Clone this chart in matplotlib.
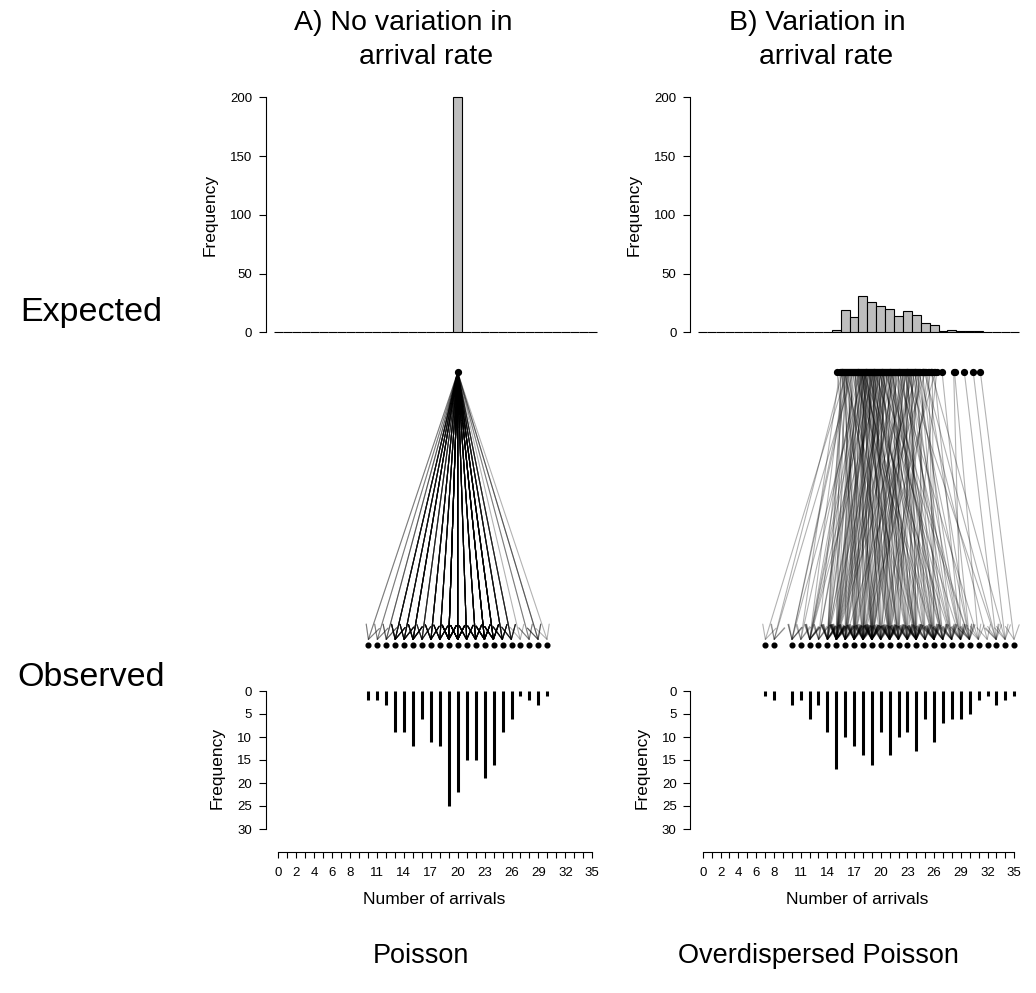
import numpy as np
import matplotlib
matplotlib.use("Agg")
import matplotlib.pyplot as plt

plt.rcParams['font.family'] = ['Liberation Sans', 'DejaVu Sans']

# --- data ---
# A) every unit has the same expected rate
lam_a = [20.0] * 200
obs_a_vals = [10, 11, 12, 13, 14, 15, 16, 17, 18, 19, 20,
              21, 22, 23, 24, 25, 26, 27, 28, 29, 30]
obs_a_counts = [2, 2, 3, 9, 9, 12, 6, 11, 12, 25, 22,
                15, 15, 19, 16, 9, 6, 1, 2, 3, 1]

# B) expected rates vary; each rate paired with its observed count
lam_b = [
    15.4, 15.1,
    16.2, 15.7, 16.4, 15.9, 16.1, 15.6, 16.3, 15.8, 16.0, 15.5,
    16.2, 15.9, 16.4, 15.7, 16.1, 15.6, 16.3, 16.0, 15.8,
    16.9, 16.6, 17.3, 17.0, 16.7, 17.4, 16.8, 17.2, 16.6, 17.1, 16.9, 17.3, 17.0,
    18.1, 17.6, 18.3, 17.9, 18.4, 17.7, 18.0, 17.5, 18.2, 17.8, 18.4, 18.0,
    17.6, 18.3, 17.9, 18.1, 17.7, 18.2, 17.5, 18.0, 17.8, 18.4, 17.6, 18.1,
    17.9, 18.3, 17.7, 18.2, 18.0, 17.8, 18.1,
    19.2, 18.7, 19.4, 18.9, 19.1, 18.6, 19.3, 18.8, 19.0, 18.5, 19.4, 18.9,
    19.2, 18.7, 19.1, 18.6, 19.3, 18.8, 19.0, 19.2, 18.7, 19.4, 18.9, 19.1,
    18.6, 19.3,
    20.1, 19.6, 20.3, 19.8, 20.4, 19.7, 20.0, 19.5, 20.2, 19.9, 20.4, 19.6,
    20.1, 19.8, 20.3, 19.7, 20.0, 19.9, 20.2, 19.5, 20.1, 19.8,
    21.0, 20.6, 21.3, 20.8, 21.4, 20.7, 21.1, 20.5, 21.2, 20.9, 21.4, 20.6,
    21.0, 20.8, 21.3, 20.7, 21.1, 20.9, 21.2, 20.5,
    22.1, 21.6, 22.3, 21.8, 22.4, 21.7, 22.0, 21.5, 22.2, 21.9, 22.4, 21.6,
    22.1, 21.8,
    23.0, 22.6, 23.3, 22.8, 23.4, 22.7, 23.1, 22.5, 23.2, 22.9, 23.4, 22.6,
    23.0, 22.8, 23.3, 22.7, 23.1, 22.9,
    24.1, 23.6, 24.3, 23.8, 24.4, 23.7, 24.0, 23.5, 24.2, 23.9, 24.4, 23.6,
    24.1, 23.8, 24.3,
    25.0, 24.6, 25.3, 24.8, 25.4, 24.7, 25.1, 24.9,
    26.1, 25.6, 26.3, 25.8, 26.0, 25.7,
    26.9, 28.2, 28.3, 29.4, 30.4, 31.2,
]
obs_b = [
    11, 18,
    7, 8, 10, 12, 13, 14, 14, 14, 15, 15, 16, 17, 17, 18, 19, 20, 21, 22, 24,
    8, 10, 12, 14, 15, 15, 16, 17, 18, 19, 21, 23, 26,
    10, 11, 12, 12, 13, 14, 14, 15, 15, 15, 16, 16, 17, 17, 18, 18, 19, 19,
    19, 20, 20, 21, 21, 22, 22, 23, 24, 24, 25, 26, 28,
    12, 13, 14, 15, 15, 15, 16, 16, 17, 17, 18, 18, 19, 19, 20, 21, 21, 22,
    22, 23, 24, 24, 25, 26, 27, 29,
    12, 14, 15, 15, 16, 17, 17, 18, 18, 19, 19, 20, 21, 21, 22, 23, 24, 24,
    26, 27, 28, 30,
    14, 15, 15, 16, 17, 18, 19, 19, 20, 21, 22, 23, 24, 25, 26, 26, 27, 27,
    28, 30,
    15, 16, 18, 19, 20, 21, 22, 23, 24, 25, 26, 27, 29, 31,
    15, 17, 18, 19, 19, 20, 21, 21, 22, 23, 24, 24, 25, 26, 27, 28, 29, 33,
    15, 17, 18, 19, 21, 22, 23, 24, 25, 26, 27, 28, 29, 30, 32,
    16, 19, 21, 24, 26, 28, 30, 33,
    18, 20, 23, 26, 29, 34,
    30, 29, 31, 33, 34, 35,
]

x_ticks = list(range(36))
x_labels = [0, 2, 4, 6, 8, 11, 14, 17, 20, 23, 26, 29, 32, 35]

# --- layout in pixels ---
W, H = 1036, 993
fig = plt.figure(figsize=(W / 100, H / 100), dpi=100)


def px_axes(x0, x1, y_top, y_bot):
    return fig.add_axes([x0 / W, 1 - y_bot / H, (x1 - x0) / W, (y_bot - y_top) / H])


XLIM = (-1.4, 36.2)
TICK_FS = 9.5
LAB_FS = 12.5


def column(zero_px, scale, lam, obs):
    x0 = zero_px + XLIM[0] * scale
    x1 = zero_px + XLIM[1] * scale

    # expected histogram
    ax = px_axes(x0, x1, 97.3 - 5 * 1.175, 332.3 + 5 * 1.175)
    ax.hist(lam, bins=np.arange(-0.5, 36.0, 1.0), color='#BEBEBE',
            edgecolor='black', linewidth=0.8)
    ax.set_xlim(XLIM)
    ax.set_ylim(-5, 205)
    for s in ['top', 'right', 'bottom']:
        ax.spines[s].set_visible(False)
    ax.spines['left'].set_bounds(0, 200)
    ax.spines['left'].set_linewidth(0.8)
    ax.set_xticks([])
    ax.set_yticks([0, 50, 100, 150, 200])
    ax.tick_params(axis='y', length=5.3, width=0.8, pad=4.5, labelsize=TICK_FS)
    ax.set_ylabel('Frequency', fontsize=LAB_FS, labelpad=9)

    # links from expected rate to observed count
    am = px_axes(x0, x1, 372.3, 645)
    am.set_xlim(XLIM)
    am.set_ylim(0, 1)
    am.axis('off')
    for l, o in zip(lam, obs):
        am.annotate('', xy=(o, 0.016), xytext=(l, 1.0),
                    arrowprops=dict(arrowstyle='->,head_length=1.0,head_width=0.5',
                                    color=(0, 0, 0, 0.3), lw=0.8,
                                    shrinkA=0, shrinkB=0))
    top_pts = np.unique(lam)
    am.plot(top_pts, np.ones_like(top_pts), 'o', color='black', ms=4.2,
            clip_on=False, zorder=5)
    vals, counts = np.unique(obs, return_counts=True)
    am.plot(vals, np.zeros_like(vals), 'o', color='black', ms=3.4,
            clip_on=False, zorder=5)

    # observed counts, drawn downwards
    ab = px_axes(x0, x1, 691 - 1.5 * 4.6, 852)
    ab.vlines(vals, 0, counts, color='black', linewidth=2.2)
    ab.set_xlim(XLIM)
    ab.set_ylim(35, -1.5)
    for s in ['top', 'right']:
        ab.spines[s].set_visible(False)
    ab.spines['left'].set_bounds(0, 30)
    ab.spines['bottom'].set_bounds(0, 35)
    ab.spines['left'].set_linewidth(0.8)
    ab.spines['bottom'].set_linewidth(0.8)
    ab.set_yticks([0, 5, 10, 15, 20, 25, 30])
    ab.set_xticks(x_ticks)
    ab.set_xticklabels([str(t) if t in x_labels else '' for t in x_ticks])
    ab.tick_params(axis='y', length=5.3, width=0.8, pad=4.5, labelsize=TICK_FS)
    ab.tick_params(axis='x', length=4.5, width=0.8, pad=6.5, labelsize=TICK_FS)
    ab.set_ylabel('Frequency', fontsize=LAB_FS, labelpad=9)
    ab.set_xlabel('Number of arrivals', fontsize=LAB_FS, labelpad=9)


column(278.3, 8.97, lam_a, np.repeat(obs_a_vals, obs_a_counts))
column(702.7, 8.90, lam_b, obs_b)

# --- titles and row / column labels ---
def ftext(x, y, s, size, **kw):
    fig.text(x / W, 1 - y / H, s, fontsize=size, ha='center', va='center', **kw)


ftext(403, 23, 'A) No variation in', 20.5)
ftext(426, 57, 'arrival rate', 20.5)
ftext(817, 23, 'B) Variation in', 20.5)
ftext(826, 57, 'arrival rate', 20.5)
ftext(91, 312, 'Expected', 24.5)
ftext(91, 678, 'Observed', 24.5)
ftext(421, 956, 'Poisson', 19.5)
ftext(818, 956, 'Overdispersed Poisson', 19.5)

fig.savefig('out.png', dpi=100)
